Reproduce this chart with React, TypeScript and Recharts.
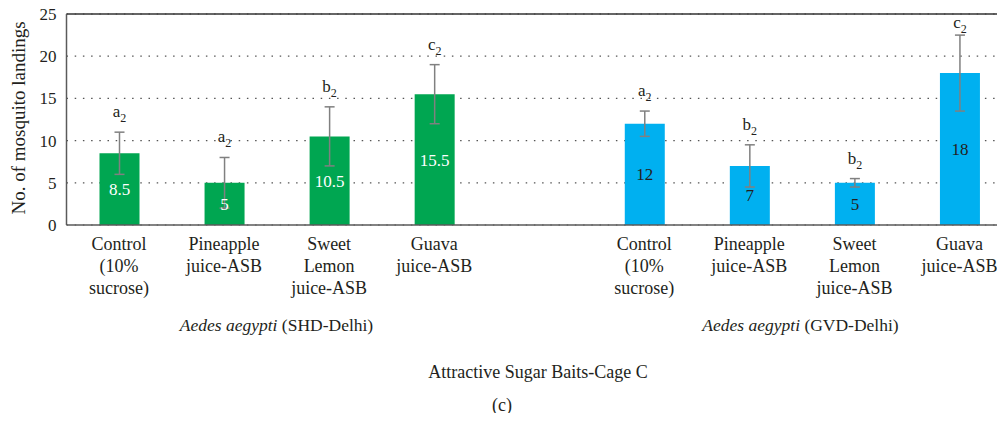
import React from 'react';
import { BarChart, Bar, XAxis, YAxis, CartesianGrid, ErrorBar, LabelList, Cell, ReferenceLine } from 'recharts';

const categories = ['Control (10% sucrose)', 'Pineapple juice-ASB', 'Sweet Lemon juice-ASB', 'Guava juice-ASB'];
const categoryLines = [['Control', '(10%', 'sucrose)'], ['Pineapple', 'juice-ASB'], ['Sweet', 'Lemon', 'juice-ASB'], ['Guava', 'juice-ASB']];
const shdValues = [8.5, 5, 10.5, 15.5];
const shdErrors = [2.5, 3, 3.5, 3.5];
const shdLetters = ['a', 'a', 'b', 'c'];
const gvdValues = [12, 7, 5, 18];
const gvdErrors = [1.5, 2.5, 0.5, 4.5];
const gvdLetters = ['a', 'b', 'b', 'c'];
const speciesName = 'Aedes aegypti';
const groupNames = ['(SHD-Delhi)', '(GVD-Delhi)'];
const letterSubscript = '2';
const yTicks = [0, 5, 10, 15, 20, 25];
const xTitle = 'Attractive Sugar Baits-Cage C';
const yTitle = 'No. of mosquito landings';
const panelLabel = '(c)';

const barColors = ['#00A651', '#00B0F0'];
const innerLabelColors = ['#FFFFFF', '#231F20'];
const FONT = "'Liberation Serif', 'Times New Roman', serif";
const TEXT = '#231F20';

type Row = { key: string; lines: string[]; value: number | null; err: number | null; letter: string; group: number };

const data: Row[] = [
  ...categories.map((c, i) => ({ key: 'shd-' + i, lines: categoryLines[i], value: shdValues[i], err: shdErrors[i], letter: shdLetters[i], group: 0 })),
  { key: 'gap', lines: [], value: null, err: null, letter: '', group: -1 },
  ...categories.map((c, i) => ({ key: 'gvd-' + i, lines: categoryLines[i], value: gvdValues[i], err: gvdErrors[i], letter: gvdLetters[i], group: 1 })),
];

const findRow = (k: any) => data.find((d) => d.key === k);

const CategoryTick = (props: any) => {
  const { x, y, payload } = props;
  const row = findRow(payload?.value);
  if (!row || row.lines.length === 0) return null;
  return (
    <text x={x} y={y} textAnchor="middle" fontSize={18} fill={TEXT} fontFamily={FONT}>
      {row.lines.map((l, i) => (
        <tspan key={i} x={x} dy={i === 0 ? 25 : 22}>{l}</tspan>
      ))}
    </text>
  );
};

const getBox = (p: any) => {
  const vb = p.viewBox || {};
  return {
    x: Number(p.x ?? vb.x),
    y: Number(p.y ?? vb.y),
    width: Number(p.width ?? vb.width),
    height: Number(p.height ?? vb.height),
  };
};

const InnerLabel = (p: any) => {
  const row = findRow(p.value);
  if (!row || row.value == null) return null;
  const b = getBox(p);
  return (
    <text x={b.x + b.width / 2} y={b.y + b.height / 2} dy="0.35em" textAnchor="middle" fontSize={17} fill={innerLabelColors[row.group]} fontFamily={FONT}>
      {row.value}
    </text>
  );
};

const LetterLabel = (p: any) => {
  const row = findRow(p.value);
  if (!row || row.value == null || row.err == null) return null;
  const b = getBox(p);
  const px = b.height / row.value;
  const errTop = b.y - row.err * px;
  const plotTop = b.y + b.height - 25 * px;
  const base = Math.max(errTop - 15, plotTop + 14);
  return (
    <text x={b.x + b.width / 2} y={base} textAnchor="middle" fontSize={17} fill={TEXT} fontFamily={FONT}>
      {row.letter}
      <tspan fontSize={12} dy={5}>{letterSubscript}</tspan>
    </text>
  );
};

export default function App() {
  return (
    <div style={{ position: 'relative', width: 1005, height: 421, margin: -8, overflow: 'hidden', background: '#fff' }}>
      <BarChart width={1012} height={421} data={data} margin={{ top: 14, right: 0, bottom: 76, left: 0 }} barSize={40}>
        <CartesianGrid vertical={false} stroke="#555" strokeWidth={1.2} strokeDasharray="1.5 6.7" />
        <XAxis dataKey="key" type="category" height={120} tick={<CategoryTick />} tickLine={false} tickSize={0} tickMargin={0} interval={0} axisLine={{ stroke: '#5a5a5a', strokeWidth: 1.5 }} />
        <YAxis width={66.5} domain={[0, 25]} ticks={yTicks} tickLine={false} tickSize={0} tickMargin={10} axisLine={{ stroke: '#5a5a5a', strokeWidth: 1.5 }} tick={{ fontSize: 17, fill: TEXT, fontFamily: FONT }} />
        <ReferenceLine y={25} stroke="#333" strokeWidth={1.5} />
        <Bar dataKey="value" isAnimationActive={false}>
          {data.map((d) => (
            <Cell key={d.key} fill={d.group >= 0 ? barColors[d.group] : 'transparent'} />
          ))}
          <ErrorBar dataKey="err" width={5} stroke="#808080" strokeWidth={1.5} direction="y" />
          <LabelList dataKey="key" content={<InnerLabel />} />
          <LabelList dataKey="key" content={<LetterLabel />} />
        </Bar>
      </BarChart>
      <svg width={1005} height={421} style={{ position: 'absolute', left: 0, top: 0, pointerEvents: 'none' }} fontFamily={FONT} fill={TEXT}>
        <text transform="translate(25,118) rotate(-90)" textAnchor="middle" fontSize={19}>{yTitle}</text>
        <text x={276.5} y={331} textAnchor="middle" fontSize={17.5}>
          <tspan fontStyle="italic">{speciesName}</tspan> {groupNames[0]}
        </text>
        <text x={800.5} y={331} textAnchor="middle" fontSize={17.5}>
          <tspan fontStyle="italic">{speciesName}</tspan> {groupNames[1]}
        </text>
        <text x={538} y={378} textAnchor="middle" fontSize={18}>{xTitle}</text>
        <text x={502} y={411} textAnchor="middle" fontSize={18}>{panelLabel}</text>
      </svg>
    </div>
  );
}
